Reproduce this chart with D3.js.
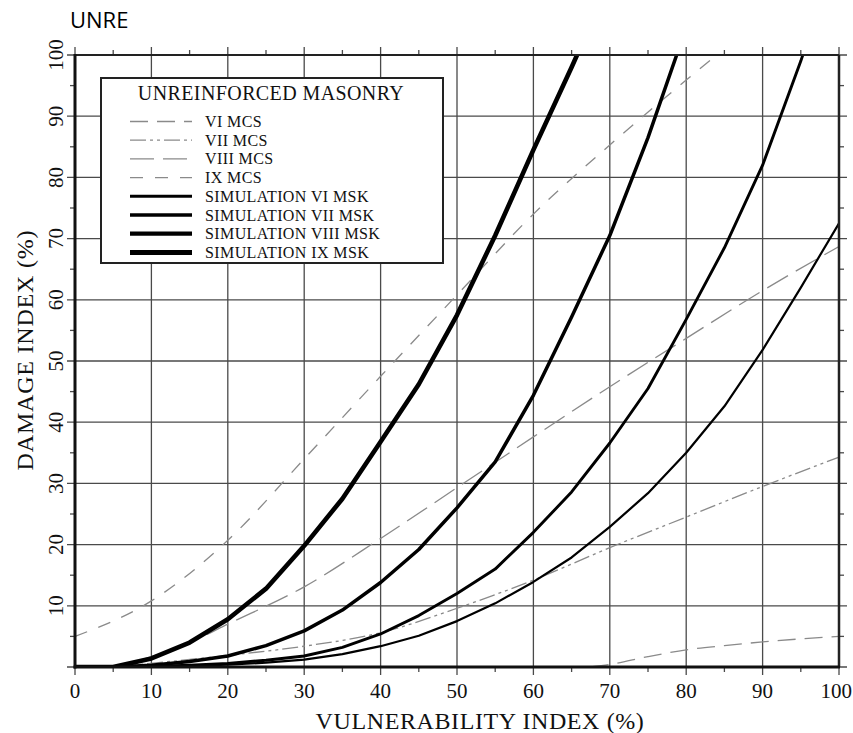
<!DOCTYPE html>
<html><head><meta charset="utf-8">
<script src="https://cdn.jsdelivr.net/npm/d3@7"></script>
<style>body{margin:0;background:#fff}svg{display:block}</style>
</head><body>
<svg id="c" width="853" height="733"></svg>
<script>
// ---------- DATA ----------
const chartTitle = "UNRE";
const legendTitle = "UNREINFORCED MASONRY";
const xAxisLabel = "VULNERABILITY INDEX (%)";
const yAxisLabel = "DAMAGE INDEX (%)";
const xTickValues = [0,10,20,30,40,50,60,70,80,90,100];
const xTickLabels = ["0","10","20","30","40","50","60","70","80","90","100"];
const yTickValues = [10,20,30,40,50,60,70,80,90,100];
const yTickLabels = ["10","20","30","40","50","60","70","80","90","100"];
const minorTicks = [5,15,25,35,45,55,65,75,85,95];

const seriesNames = ["VI MCS","VII MCS","VIII MCS","IX MCS",
  "SIMULATION VI MSK","SIMULATION VII MSK","SIMULATION VIII MSK","SIMULATION IX MSK"];

// MCS curves (dashed)
const mcsVI_x   = [67.5,70,75,80,85,90,95,100];
const mcsVI_y   = [0,0.4,1.7,2.8,3.5,4.1,4.6,5.0];
const mcsVII_x  = [5,10,20,30,40,50,60,70,80,90,100];
const mcsVII_y  = [0,0.6,1.9,3.4,5.6,9.6,14.2,19.5,24.5,29.5,34.3];
const mcsVIII_x = [5,10,15,20,30,40,50,60,70,80,90,100];
const mcsVIII_y = [0,1.7,4,7,13.1,21,29.3,37.6,45.8,53.7,61.5,68.7];
const mcsIX_x   = [0,10,20,30,40,50,60,70,80,90];
const mcsIX_y   = [5,10.8,20.7,34,47.5,60.8,74,85.3,95.9,106];

// Simulation curves (solid)
const simVI_x   = [0,5,10,15,20,25,30,35,40,45,50,55,60,65,70,75,80,85,90,95,100];
const simVI_y   = [0,0,0.1,0.2,0.4,0.7,1.2,2.1,3.4,5.1,7.5,10.4,13.9,17.9,22.9,28.4,35,42.6,51.8,62,72.5];
const simVII_x  = [0,5,10,15,20,25,30,35,40,45,50,55,60,65,70,75,80,85,90,95,100];
const simVII_y  = [0,0,0.1,0.3,0.6,1.1,1.8,3.2,5.4,8.4,12,16,22,28.6,36.6,45.5,56.8,68.5,82,99,118];
const simVIII_x = [0,5,10,15,20,25,30,35,40,45,50,55,60,65,70,75,80];
const simVIII_y = [0,0,0.3,0.9,1.8,3.5,5.9,9.3,13.8,19.2,26,33.5,44.4,57.2,70.5,86.5,104.5];
const simIX_x   = [0,5,10,15,20,25,30,35,40,45,50,55,60,65,70];
const simIX_y   = [0,0,1.4,4,7.8,12.8,19.8,27.5,36.8,46.2,57.5,70.5,84.5,98,112];

// ---------- STYLES ----------
const styles = [
  {color:"#8a8a8a", width:1.3, dash:"18,9",  curve:d3.curveMonotoneX, lw:1.3},
  {color:"#8a8a8a", width:1.3, dash:"16,4,3,4,3,4", curve:d3.curveMonotoneX, lw:1.3},
  {color:"#8a8a8a", width:1.3, dash:"24,9",  curve:d3.curveMonotoneX, lw:1.3},
  {color:"#8a8a8a", width:1.3, dash:"13,12", curve:d3.curveMonotoneX, lw:1.3},
  {color:"#000", width:2.2, dash:null, curve:d3.curveLinear, lw:3},
  {color:"#000", width:2.9, dash:null, curve:d3.curveLinear, lw:3.6},
  {color:"#000", width:3.5, dash:null, curve:d3.curveLinear, lw:4.3},
  {color:"#000", width:4.6, dash:null, curve:d3.curveLinear, lw:5}
];
const seriesX = [mcsVI_x,mcsVII_x,mcsVIII_x,mcsIX_x,simVI_x,simVII_x,simVIII_x,simIX_x];
const seriesY = [mcsVI_y,mcsVII_y,mcsVIII_y,mcsIX_y,simVI_y,simVII_y,simVIII_y,simIX_y];

// ---------- DRAW ----------
const svg = d3.select("#c");
const L = 75, R = 839, T = 55, B = 667;
const x = d3.scaleLinear().domain([0,100]).range([L,R]);
const y = d3.scaleLinear().domain([0,100]).range([B,T]);
const serif = "'Liberation Serif','Times New Roman',serif";

svg.append("text").attr("x",70).attr("y",28)
  .attr("font-family","'Open Sans',sans-serif").attr("font-size",22)
  .attr("fill","#000").text(chartTitle);

svg.append("defs").append("clipPath").attr("id","clip")
  .append("rect").attr("x",L).attr("y",T).attr("width",R-L).attr("height",B-T);

const grid = svg.append("g").attr("stroke","#4a4a4a").attr("stroke-width",1.3);
xTickValues.forEach(v => {
  grid.append("line").attr("x1",x(v)).attr("x2",x(v)).attr("y1",y(100)-8).attr("y2",y(0)+8);
});
[0].concat(yTickValues).forEach(v => {
  grid.append("line").attr("y1",y(v)).attr("y2",y(v)).attr("x1",x(0)-8).attr("x2",x(100)+8);
});
minorTicks.forEach(v => {
  grid.append("line").attr("x1",x(v)).attr("x2",x(v)).attr("y1",y(100)-5).attr("y2",y(100));
  grid.append("line").attr("x1",x(v)).attr("x2",x(v)).attr("y1",y(0)).attr("y2",y(0)+5);
  grid.append("line").attr("y1",y(v)).attr("y2",y(v)).attr("x1",x(0)-5).attr("x2",x(0));
  grid.append("line").attr("y1",y(v)).attr("y2",y(v)).attr("x1",x(100)).attr("x2",x(100)+5);
});

const plot = svg.append("g").attr("clip-path","url(#clip)");
seriesNames.forEach((name,i) => {
  const pts = seriesX[i].map((xv,j) => [xv, seriesY[i][j]]);
  const line = d3.line().x(d => x(d[0])).y(d => y(d[1])).curve(styles[i].curve);
  plot.append("path").attr("d", line(pts)).attr("fill","none")
    .attr("stroke", styles[i].color).attr("stroke-width", styles[i].width)
    .attr("stroke-dasharray", styles[i].dash)
    .attr("stroke-linejoin","round");
});

// frame
svg.append("line").attr("x1",x(0)).attr("x2",x(100)).attr("y1",y(100)).attr("y2",y(100)).attr("stroke","#222").attr("stroke-width",2.2);
svg.append("line").attr("x1",x(100)).attr("x2",x(100)).attr("y1",y(100)).attr("y2",y(0)).attr("stroke","#222").attr("stroke-width",2.5);
svg.append("line").attr("x1",x(0)).attr("x2",x(0)).attr("y1",y(100)-1).attr("y2",y(0)+1.5).attr("stroke","#111").attr("stroke-width",3);
svg.append("line").attr("x1",x(0)-1.5).attr("x2",x(100)+1).attr("y1",y(0)).attr("y2",y(0)).attr("stroke","#111").attr("stroke-width",3);

// tick labels
xTickValues.forEach((v,i) => {
  const last = i === xTickValues.length - 1;
  svg.append("text").attr("x", last ? 852 : x(v)).attr("y",698)
    .attr("text-anchor", last ? "end" : "middle")
    .attr("font-family",serif).attr("font-size",21).attr("fill","#111").text(xTickLabels[i]);
});
yTickValues.forEach((v,i) => {
  svg.append("text").attr("transform",`translate(63,${y(v)}) rotate(-90)`).attr("text-anchor","middle")
    .attr("font-family",serif).attr("font-size",21).attr("fill","#111").text(yTickLabels[i]);
});

// axis labels
svg.append("text").attr("x",480).attr("y",729).attr("text-anchor","middle")
  .attr("font-family",serif).attr("font-size",24).attr("letter-spacing",0.6).attr("fill","#111").text(xAxisLabel);
svg.append("text").attr("transform","translate(33,350) rotate(-90)").attr("text-anchor","middle")
  .attr("font-family",serif).attr("font-size",24).attr("letter-spacing",0.8).attr("fill","#111").text(yAxisLabel);

// legend
const lg = svg.append("g");
lg.append("rect").attr("x",101).attr("y",78).attr("width",342).attr("height",185)
  .attr("fill","#fff").attr("stroke","#222").attr("stroke-width",2);
lg.append("text").attr("x",271).attr("y",100).attr("text-anchor","middle")
  .attr("font-family",serif).attr("font-size",20).attr("letter-spacing",0.4).attr("fill","#111").text(legendTitle);
seriesNames.forEach((name,i) => {
  const by = 127 + i*18.7;
  lg.append("line").attr("x1",130).attr("x2",192).attr("y1",by-5.5).attr("y2",by-5.5)
    .attr("stroke",styles[i].color).attr("stroke-width",styles[i].lw)
    .attr("stroke-dasharray",styles[i].dash);
  lg.append("text").attr("x",205).attr("y",by)
    .attr("font-family",serif).attr("font-size",16).attr("letter-spacing",0.4).attr("fill","#111").text(name);
});
</script>
</body></html>
